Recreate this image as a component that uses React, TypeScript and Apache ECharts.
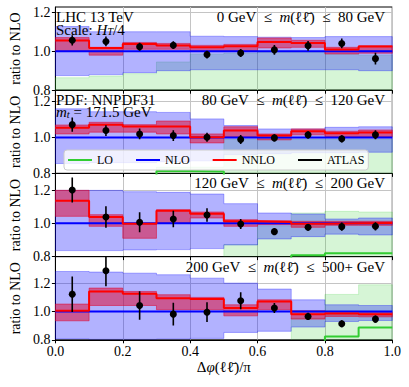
import React, { useEffect, useRef } from "react";
import * as echarts from "echarts";

// ---------- data ----------
const binEdges = [0, 0.1, 0.2, 0.3, 0.4, 0.5, 0.6, 0.7, 0.8, 0.9, 1.0];
const xTicks = [0, 0.2, 0.4, 0.6, 0.8, 1.0];
const yTicks = [0.8, 1.0, 1.2];
const massLow = ["0 GeV", "80 GeV", "120 GeV", "200 GeV"];
const massHigh = ["80 GeV", "120 GeV", "200 GeV", "500+ GeV"];
const yMaxes = [1.227, 1.264, 1.3, 1.387];
const nloRatio = [1, 1, 1, 1, 1, 1, 1, 1, 1, 1];

// panel 1: 0 - 80 GeV
const p1Nnlo = [1.055, 1.016, 1.037, 1.03, 1.021, 1.026, 1.047, 1.042, 1.009, 1.024];
const p1NnloLo = [1.0, 0.98, 1.01, 1.01, 1.0, 1.0, 1.017, 1.02, 0.986, 0.99];
const p1NnloHi = [1.07, 1.02, 1.045, 1.04, 1.03, 1.035, 1.068, 1.056, 1.02, 1.028];
const p1NloLo = [0.875, 0.88, 0.89, 0.9, 0.905, 0.905, 0.905, 0.905, 0.905, 0.9];
const p1NloHi = [1.127, 1.1, 1.1, 1.1, 1.077, 1.075, 1.072, 1.07, 1.075, 1.075];
const p1Lo = [0.7, 0.71, 0.72, 0.74, 0.76, 0.76, 0.77, 0.77, 0.76, 0.76];
const p1LoLo = [0.6, 0.6, 0.6, 0.6, 0.6, 0.6, 0.6, 0.6, 0.6, 0.6];
const p1LoHi = [0.864, 0.873, 0.885, 0.945, 0.985, 0.99, 0.995, 0.995, 0.985, 0.98];
const p1Atlas = [1.056, 1.05, 1.023, 1.031, 0.983, 0.991, 1.007, 1.028, 1.04, 0.962];
const p1Err = [0.026, 0.025, 0.02, 0.02, 0.02, 0.02, 0.025, 0.025, 0.025, 0.03];

// panel 2: 80 - 120 GeV
const p2Nnlo = [1.054, 1.072, 1.061, 1.061, 1.002, 1.039, 1.011, 1.035, 1.024, 1.028];
const p2NnloLo = [1.02, 1.03, 1.03, 1.02, 0.97, 1.005, 0.987, 1.015, 1.005, 1.005];
const p2NnloHi = [1.07, 1.085, 1.072, 1.092, 1.02, 1.06, 1.02, 1.048, 1.035, 1.042];
const p2NloLo = [0.855, 0.86, 0.86, 0.865, 0.87, 0.905, 0.91, 0.915, 0.915, 0.918];
const p2NloHi = [1.16, 1.144, 1.144, 1.14, 1.104, 1.067, 1.048, 1.048, 1.057, 1.06];
const p2Lo = [0.7, 0.7, 0.72, 0.813, 0.81, 0.77, 0.77, 0.77, 0.77, 0.77];
const p2LoLo = [0.6, 0.6, 0.6, 0.6, 0.6, 0.6, 0.6, 0.6, 0.6, 0.6];
const p2LoHi = [0.78, 0.78, 0.79, 0.835, 0.835, 0.99, 0.99, 0.99, 0.99, 0.99];
const p2Atlas = [1.072, 1.039, 1.02, 1.011, 1.002, 0.989, 0.998, 1.015, 0.993, 1.015];
const p2Err = [0.04, 0.03, 0.03, 0.03, 0.025, 0.025, 0.02, 0.02, 0.02, 0.025];

// panel 3: 120 - 200 GeV
const p3Nnlo = [1.136, 1.038, 0.998, 1.076, 1.058, 1.012, 1.008, 0.998, 1.0, 1.002];
const p3NnloLo = [1.042, 0.982, 0.91, 1.002, 1.032, 0.982, 0.992, 0.976, 0.988, 0.988];
const p3NnloHi = [1.198, 1.052, 1.0, 1.082, 1.068, 1.022, 1.016, 1.012, 1.012, 1.012];
const p3NloLo = [0.836, 0.836, 0.84, 0.842, 0.848, 0.87, 0.906, 0.92, 0.935, 0.93];
const p3NloHi = [1.198, 1.198, 1.19, 1.186, 1.176, 1.118, 1.062, 1.056, 1.026, 1.032];
const p3Lo = [0.7, 0.7, 0.7, 0.7, 0.7, 0.75, 0.77, 0.808, 0.82, 0.82];
const p3LoLo = [0.6, 0.6, 0.6, 0.6, 0.6, 0.6, 0.6, 0.6, 0.6, 0.6];
const p3LoHi = [0.78, 0.78, 0.78, 0.78, 0.78, 0.872, 0.985, 1.062, 1.072, 1.068];
const p3Atlas = [1.2, 1.038, 1.006, 1.026, 1.05, 0.996, 0.95, 0.976, 0.98, 0.982];
const p3Err = [0.075, 0.065, 0.06, 0.05, 0.04, 0.03, 0.02, 0.02, 0.025, 0.025];

// panel 4: 200 - 500+ GeV
const p4Nnlo = [1.005, 1.141, 1.125, 1.094, 1.087, 1.024, 1.071, 0.981, 0.986, 0.981];
const p4NnloLo = [0.934, 1.042, 1.042, 1.012, 1.012, 0.969, 1.012, 0.946, 0.965, 0.962];
const p4NnloHi = [1.052, 1.165, 1.141, 1.118, 1.099, 1.047, 1.082, 1.005, 1.0, 0.995];
const p4NloLo = [0.806, 0.803, 0.803, 0.805, 0.81, 0.852, 0.86, 0.89, 0.929, 0.936];
const p4NloHi = [1.282, 1.278, 1.27, 1.259, 1.235, 1.2, 1.158, 1.082, 1.047, 1.042];
const p4Lo = [0.7, 0.7, 0.7, 0.7, 0.7, 0.72, 0.72, 0.77, 0.824, 0.887];
const p4LoLo = [0.6, 0.6, 0.6, 0.6, 0.6, 0.6, 0.6, 0.6, 0.6, 0.6];
const p4LoHi = [0.78, 0.78, 0.78, 0.78, 0.78, 0.79, 0.79, 0.953, 1.12, 1.188];
const p4Atlas = [1.122, 1.287, 1.042, 0.981, 0.995, 1.075, 1.024, 0.965, 0.913, 0.946];
const p4Err = [0.125, 0.11, 0.1, 0.08, 0.07, 0.06, 0.035, 0.025, 0.025, 0.025];

// ---------- styling ----------
const SERIF = "'Liberation Serif', 'DejaVu Serif', serif";
const GREEN = "#32cd32";
const GREEN_BAND = "rgba(50,205,50,0.2)";
const BLUE = "#0000ff";
const BLUE_BAND = "rgba(0,0,255,0.3)";
const RED = "#ff0000";
const RED_BAND = "rgba(225,0,40,0.5)";
const GRID_LEFT = 49.3;
const GRID_WIDTH = 343;
const GRID_TOPS = [7, 90.2, 173.4, 256.6];
const GRID_H = 83.2;
const SP = "\u2002";

const panels = [
  { nnlo: p1Nnlo, nnloLo: p1NnloLo, nnloHi: p1NnloHi, nloLo: p1NloLo, nloHi: p1NloHi, lo: p1Lo, loLo: p1LoLo, loHi: p1LoHi, atlas: p1Atlas, err: p1Err },
  { nnlo: p2Nnlo, nnloLo: p2NnloLo, nnloHi: p2NnloHi, nloLo: p2NloLo, nloHi: p2NloHi, lo: p2Lo, loLo: p2LoLo, loHi: p2LoHi, atlas: p2Atlas, err: p2Err },
  { nnlo: p3Nnlo, nnloLo: p3NnloLo, nnloHi: p3NnloHi, nloLo: p3NloLo, nloHi: p3NloHi, lo: p3Lo, loLo: p3LoLo, loHi: p3LoHi, atlas: p3Atlas, err: p3Err },
  { nnlo: p4Nnlo, nnloLo: p4NnloLo, nnloHi: p4NnloHi, nloLo: p4NloLo, nloHi: p4NloHi, lo: p4Lo, loLo: p4LoLo, loHi: p4LoHi, atlas: p4Atlas, err: p4Err },
];

const N = binEdges.length - 1;
function stepData(vals: number[]) {
  const d = vals.map((v, i) => [binEdges[i], v]);
  d.push([binEdges[N], vals[N - 1]]);
  return d;
}
function bandData(lo: number[], hi: number[]) {
  return lo.map((l, i) => [binEdges[i], binEdges[i + 1], l, hi[i]]);
}
function bandRender(fill: string) {
  return (params: any, api: any) => {
    if (params.dataIndexInside !== 0) return null;
    const n = params.dataInsideLength;
    const upper: number[][] = [];
    const lower: number[][] = [];
    for (let i = 0; i < n; i++) {
      const x0 = api.value(0, i), x1 = api.value(1, i), lo = api.value(2, i), hi = api.value(3, i);
      upper.push(api.coord([x0, hi]), api.coord([x1, hi]));
      lower.push(api.coord([x0, lo]), api.coord([x1, lo]));
    }
    const points = upper.concat(lower.reverse());
    return { type: "polygon", shape: { points }, style: { fill, stroke: fill, lineWidth: 1 } };
  };
}
function errRender(params: any, api: any) {
  const x = api.value(0);
  const p0 = api.coord([x, api.value(1)]);
  const p1 = api.coord([x, api.value(2)]);
  return { type: "line", shape: { x1: p0[0], y1: p0[1], x2: p1[0], y2: p1[1] }, style: { stroke: "#000", lineWidth: 1.6 } };
}

function buildOption() {
  const grid = panels.map((_, k) => ({
    left: GRID_LEFT, width: GRID_WIDTH, top: GRID_TOPS[k], height: GRID_H,
    show: true, borderColor: "#000", borderWidth: 1, backgroundColor: "transparent",
  }));
  const xAxis = panels.map((_, k) => ({
    type: "value", gridIndex: k, min: 0, max: 1, interval: 0.2,
    axisLine: { show: true, onZero: false, lineStyle: { color: "#000", width: 1 } },
    axisTick: { show: true, inside: false, length: 3.5, lineStyle: { color: "#000" } },
    axisLabel: {
      show: k === 3, margin: 5, color: "#000", fontFamily: SERIF, fontSize: 14,
      formatter: (v: number) => v.toFixed(1), customValues: xTicks,
    },
    splitLine: { show: true, lineStyle: { color: "#c4c4c4", width: 1 } },
    name: k === 3 ? "{n|Δ}{i|φ}{n|(ℓℓ̄)/π}" : "",
    nameLocation: "middle", nameGap: 20,
    nameTextStyle: {
      rich: {
        n: { fontFamily: SERIF, fontSize: 15, color: "#000" },
        i: { fontFamily: SERIF, fontSize: 15, color: "#000", fontStyle: "italic" },
      },
    },
  }));
  const yAxis = panels.map((_, k) => ({
    type: "value", gridIndex: k, min: 0.8, max: yMaxes[k], interval: 0.2,
    axisLine: { show: true, lineStyle: { color: "#000", width: 1 } },
    axisTick: { show: true, inside: false, length: 3.5, lineStyle: { color: "#000" }, customValues: yTicks },
    axisLabel: {
      show: true, margin: 5, color: "#000", fontFamily: SERIF, fontSize: 14,
      formatter: (v: number) => v.toFixed(1), customValues: yTicks,
    },
    splitLine: { show: true, lineStyle: { color: "#c4c4c4", width: 1 } },
    name: "ratio to NLO", nameLocation: "middle", nameGap: 27, nameRotate: 90,
    nameTextStyle: { fontFamily: SERIF, fontSize: 14, color: "#000" },
  }));

  const series: any[] = [];
  panels.forEach((p, k) => {
    const ax = { xAxisIndex: k, yAxisIndex: k };
    series.push({ type: "custom", ...ax, clip: true, silent: true, renderItem: bandRender(GREEN_BAND), encode: { x: [0, 1], y: [2, 3] }, data: bandData(p.loLo, p.loHi), z: 1 });
    series.push({ type: "custom", ...ax, clip: true, silent: true, renderItem: bandRender(BLUE_BAND), encode: { x: [0, 1], y: [2, 3] }, data: bandData(p.nloLo, p.nloHi), z: 1 });
    series.push({ type: "custom", ...ax, clip: true, silent: true, renderItem: bandRender(RED_BAND), encode: { x: [0, 1], y: [2, 3] }, data: bandData(p.nnloLo, p.nnloHi), z: 1 });
    series.push({ type: "line", name: "LO", ...ax, step: "end", showSymbol: false, clip: true, data: stepData(p.lo), lineStyle: { color: GREEN, width: 2 }, itemStyle: { color: GREEN }, z: 3 });
    series.push({ type: "line", name: "NLO", ...ax, step: "end", showSymbol: false, clip: true, data: stepData(nloRatio), lineStyle: { color: BLUE, width: 2 }, itemStyle: { color: BLUE }, z: 3 });
    series.push({ type: "line", name: "NNLO", ...ax, step: "end", showSymbol: false, clip: true, data: stepData(p.nnlo), lineStyle: { color: RED, width: 2 }, itemStyle: { color: RED }, z: 3 });
    series.push({
      type: "custom", name: "ATLAS", ...ax, clip: true, renderItem: errRender, encode: { x: 0, y: [1, 2] },
      itemStyle: { color: "#000" }, z: 4,
      data: p.atlas.map((v, i) => [(binEdges[i] + binEdges[i + 1]) / 2, v - p.err[i], v + p.err[i]]),
    });
    series.push({
      type: "scatter", name: "ATLAS", ...ax, symbolSize: 7, clip: true, itemStyle: { color: "#000", opacity: 1 }, z: 5,
      data: p.atlas.map((v, i) => [(binEdges[i] + binEdges[i + 1]) / 2, v]),
    });
  });

  const txt = (x: number, y: number, text: string, align: string, rich: any) => ({
    type: "text", x, y, z: 100,
    style: {
      text, rich, align, textAlign: align, verticalAlign: "middle", textVerticalAlign: "middle",
      fontFamily: SERIF, fontSize: 15, fill: "#000",
    },
  });
  const rich = {
    n: { fontFamily: SERIF, fontSize: 15, fill: "#000", color: "#000" },
    i: { fontFamily: SERIF, fontSize: 15, fill: "#000", color: "#000", fontStyle: "italic" },
    s: { fontFamily: SERIF, fontSize: 10.5, fill: "#000", color: "#000", fontStyle: "italic", verticalAlign: "bottom" },
  };
  const graphic: any[] = [];
  panels.forEach((_, k) => {
    graphic.push(txt(385, GRID_TOPS[k] + 10, `{n|${massLow[k]}${SP}≤${SP}}{i|m}{n|(ℓℓ̄)${SP}≤${SP}${massHigh[k]}}`, "right", rich));
  });
  graphic.push(txt(56, GRID_TOPS[0] + 9.5, "{n|LHC 13 TeV}", "left", rich));
  graphic.push(txt(56, GRID_TOPS[0] + 22.5, "{n|Scale: }{i|H}{s|T}{n|/4}", "left", rich));
  graphic.push(txt(56, GRID_TOPS[1] + 9.5, "{n|PDF: NNPDF31}", "left", rich));
  graphic.push(txt(56, GRID_TOPS[1] + 22, "{i|m}{s|t}{n| = 171.5 GeV}", "left", rich));

  return {
    animation: false,
    backgroundColor: "#fff",
    grid, xAxis, yAxis, series, graphic,
    legend: {
      left: 64, top: 150, orient: "horizontal",
      data: ["LO", "NLO", "NNLO", "ATLAS"],
      icon: "rect", itemWidth: 24, itemHeight: 2, itemGap: 23,
      padding: [4, 4, 4, 4],
      backgroundColor: "rgba(255,255,255,0.8)", borderColor: "#cccccc", borderWidth: 1, borderRadius: 3,
      textStyle: { fontFamily: SERIF, fontSize: 12, color: "#000" },
      selectedMode: false, z: 10,
    },
  };
}

export default function App() {
  const ref = useRef<HTMLDivElement>(null);
  useEffect(() => {
    if (!ref.current) return;
    const chart = echarts.init(ref.current, null, { renderer: "svg" });
    chart.setOption(buildOption() as any);
    return () => chart.dispose();
  }, []);
  return <div ref={ref} style={{ position: "absolute", left: 0, top: 0, width: 409, height: 387 }} />;
}
